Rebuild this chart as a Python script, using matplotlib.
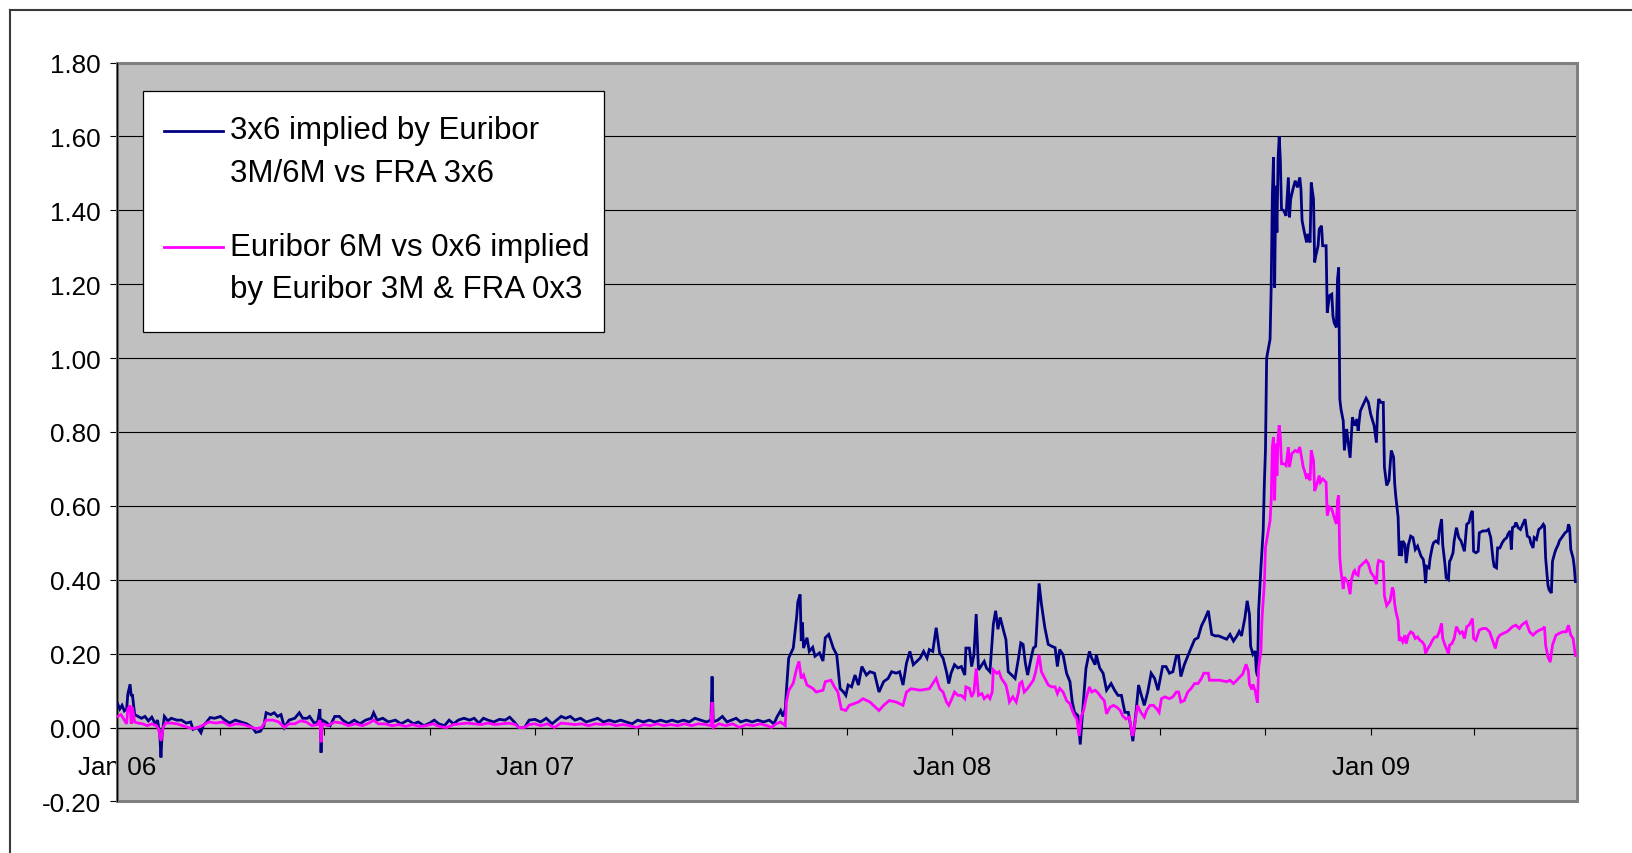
import numpy as np
import matplotlib
matplotlib.use("Agg")
import matplotlib.pyplot as plt
import matplotlib.dates as mdates
from matplotlib.lines import Line2D
from matplotlib.patches import Rectangle
from matplotlib.ticker import FixedLocator, FuncFormatter

plt.rcParams["font.family"] = ["Liberation Sans", "DejaVu Sans"]

# ---------------------------------------------------------------------------
# Data: (day offset from 1 Jan 2006, spread in percentage points)
# ---------------------------------------------------------------------------
ORIGIN = "2006-01-01"

fra3x6_2006 = [
    (0, 0.065), (2, 0.05), (4, 0.06), (6, 0.045), (8, 0.05), (9, 0.09), (11, 0.117), (12, 0.085),
    (13, 0.09), (15, 0.035), (18, 0.03), (21, 0.025), (24, 0.03), (27, 0.018), (30, 0.028), (33, 0.01),
    (35, 0.02), (37, -0.02), (38, -0.081), (39, -0.02), (41, 0.03), (44, 0.018), (47, 0.025), (52, 0.02),
    (56, 0.02), (60, 0.012), (64, 0.015), (66, -0.005), (70, 0.0), (73, -0.014), (75, 0.005), (78, 0.015),
    (81, 0.027), (85, 0.025), (90, 0.03), (94, 0.02), (98, 0.012), (103, 0.02), (108, 0.015), (113, 0.01),
    (118, 0.0), (121, -0.013), (125, -0.01), (128, 0.005), (130, 0.04), (134, 0.035), (137, 0.04),
    (140, 0.03), (143, 0.035), (146, 0.0), (150, 0.02), (155, 0.025), (159, 0.04), (162, 0.025),
    (166, 0.025), (168, 0.03), (172, 0.012), (175, 0.015), (177, 0.05), (178, -0.068), (179, 0.02),
    (182, 0.015), (186, 0.005), (190, 0.03), (194, 0.03), (197, 0.02), (202, 0.01), (207, 0.02),
    (212, 0.01), (217, 0.02), (222, 0.025), (224, 0.04), (227, 0.02), (232, 0.025), (237, 0.015),
    (243, 0.02), (248, 0.01), (254, 0.02), (259, 0.01), (263, 0.015), (268, 0.005), (273, 0.012),
    (277, 0.02), (281, 0.01), (286, 0.005), (290, 0.02), (294, 0.01), (298, 0.02), (303, 0.025),
    (308, 0.02), (312, 0.025), (316, 0.012), (320, 0.025), (324, 0.02), (329, 0.015), (334, 0.022),
    (339, 0.02), (343, 0.028), (347, 0.015), (351, 0.0), (356, 0.0), (360, 0.02),
]
fra3x6_2007 = [
    (365, 0.022), (370, 0.015), (375, 0.025), (380, 0.01), (384, 0.02), (388, 0.03), (392, 0.025),
    (396, 0.03), (400, 0.02), (405, 0.025), (410, 0.015), (415, 0.02), (420, 0.025), (425, 0.015),
    (430, 0.02), (435, 0.015), (440, 0.02), (445, 0.015), (450, 0.01), (455, 0.02), (460, 0.015),
    (465, 0.02), (470, 0.015), (475, 0.02), (480, 0.015), (485, 0.02), (490, 0.015), (495, 0.02),
    (500, 0.015), (505, 0.025), (510, 0.02), (515, 0.015), (519, 0.02), (520, 0.138), (521, 0.015),
    (525, 0.02), (529, 0.03), (533, 0.015), (537, 0.02), (541, 0.025), (545, 0.015), (550, 0.02),
    (555, 0.015), (560, 0.02), (565, 0.015), (570, 0.02), (574, 0.01), (577, 0.03), (580, 0.046),
    (582, 0.03), (584, 0.05), (585, 0.10), (587, 0.188), (591, 0.215), (592, 0.243), (594, 0.30),
    (595, 0.34), (597, 0.36), (598, 0.234), (599, 0.284), (600, 0.215), (603, 0.243), (605, 0.206),
    (608, 0.217), (610, 0.193), (614, 0.202), (617, 0.18), (619, 0.243), (622, 0.252), (624, 0.234),
    (626, 0.215), (629, 0.197), (632, 0.105), (635, 0.096), (637, 0.087), (639, 0.115), (642, 0.11),
    (645, 0.142), (648, 0.115), (651, 0.165), (655, 0.142), (658, 0.151), (662, 0.147), (666, 0.096),
    (670, 0.124), (674, 0.133), (677, 0.151), (681, 0.147), (684, 0.151), (687, 0.115), (690, 0.174),
    (693, 0.206), (696, 0.17), (699, 0.179), (702, 0.188), (705, 0.206), (708, 0.188), (710, 0.211),
    (713, 0.206), (716, 0.27), (719, 0.202), (722, 0.188), (725, 0.151), (727, 0.119),
]
fra3x6_2008 = [
    (729, 0.147), (732, 0.17), (735, 0.161), (738, 0.165), (741, 0.142), (742, 0.215), (745, 0.215),
    (747, 0.165), (749, 0.197), (751, 0.307), (753, 0.156), (756, 0.17), (758, 0.179), (760, 0.161),
    (763, 0.151), (766, 0.28), (768, 0.316), (770, 0.266), (772, 0.298), (775, 0.261), (777, 0.238),
    (779, 0.151), (782, 0.142), (785, 0.133), (788, 0.188), (790, 0.229), (792, 0.225), (794, 0.174),
    (796, 0.142), (799, 0.188), (801, 0.215), (803, 0.22), (806, 0.39), (808, 0.335), (811, 0.271),
    (814, 0.225), (817, 0.22), (820, 0.216), (822, 0.165), (824, 0.211), (827, 0.197), (830, 0.147),
    (833, 0.124), (835, 0.069), (837, 0.041), (840, 0.032), (842, -0.046), (844, 0.041), (847, 0.16),
    (850, 0.206), (852, 0.188), (855, 0.17), (856, 0.197), (859, 0.161), (862, 0.147), (865, 0.101),
    (869, 0.119), (872, 0.101), (875, 0.087), (878, 0.087), (881, 0.041), (884, 0.041), (886, 0.005),
    (888, -0.037), (891, 0.05), (893, 0.115), (895, 0.092), (898, 0.06), (901, 0.096), (904, 0.147),
    (907, 0.133), (910, 0.101), (914, 0.165), (917, 0.165), (920, 0.147), (923, 0.151), (926, 0.193),
    (928, 0.193), (930, 0.138), (933, 0.17), (936, 0.193), (939, 0.216), (942, 0.238), (945, 0.243),
    (948, 0.275), (951, 0.294), (954, 0.316), (957, 0.252), (960, 0.248), (963, 0.248), (967, 0.243),
    (970, 0.239), (973, 0.252), (976, 0.234), (979, 0.248), (981, 0.26), (983, 0.248), (986, 0.297),
    (988, 0.343), (990, 0.306), (991, 0.22), (993, 0.198), (995, 0.207), (996, 0.153), (997, 0.139),
    (998, 0.316), (1000, 0.433), (1002, 0.533), (1003, 0.66), (1004, 0.753), (1005, 1.0), (1008, 1.051),
    (1009, 1.196), (1010, 1.44), (1011, 1.543), (1012, 1.191), (1013, 1.466), (1014, 1.34), (1015, 1.539),
    (1016, 1.60), (1017, 1.534), (1018, 1.403), (1020, 1.399), (1022, 1.385), (1024, 1.489), (1025, 1.381),
    (1026, 1.43), (1028, 1.457), (1030, 1.48), (1032, 1.462), (1034, 1.489), (1035, 1.457), (1036, 1.372),
    (1038, 1.34), (1040, 1.313), (1041, 1.336), (1043, 1.313), (1044, 1.475), (1046, 1.43), (1047, 1.259),
    (1048, 1.277), (1050, 1.304), (1051, 1.349), (1053, 1.358), (1054, 1.304), (1057, 1.304), (1058, 1.123),
    (1060, 1.169), (1062, 1.173), (1063, 1.114), (1064, 1.096), (1066, 1.083), (1067, 1.214), (1068, 1.245),
    (1069, 0.889), (1070, 0.862), (1072, 0.83), (1073, 0.75), (1075, 0.808), (1076, 0.78), (1078, 0.73),
    (1080, 0.84), (1082, 0.817), (1084, 0.835), (1085, 0.803), (1087, 0.857), (1089, 0.871), (1092, 0.891),
    (1094, 0.88),
]
fra3x6_2009 = [
    (1096, 0.848), (1099, 0.817), (1101, 0.771), (1102, 0.853), (1103, 0.889), (1105, 0.88), (1107, 0.88),
    (1108, 0.705), (1110, 0.655), (1112, 0.669), (1114, 0.75), (1116, 0.732), (1117, 0.66), (1118, 0.624),
    (1120, 0.569), (1121, 0.465), (1122, 0.505), (1123, 0.464), (1124, 0.505), (1126, 0.495), (1127, 0.445),
    (1129, 0.495), (1131, 0.518), (1133, 0.514), (1135, 0.482), (1137, 0.491), (1139, 0.473), (1140, 0.464),
    (1142, 0.455), (1143, 0.432), (1144, 0.391), (1145, 0.436), (1147, 0.432), (1148, 0.459), (1150, 0.491),
    (1151, 0.5), (1153, 0.505), (1155, 0.5), (1156, 0.532), (1158, 0.564), (1159, 0.495), (1161, 0.441),
    (1162, 0.405), (1164, 0.4), (1165, 0.45), (1166, 0.455), (1168, 0.473), (1169, 0.505), (1171, 0.541),
    (1173, 0.514), (1175, 0.505), (1177, 0.486), (1178, 0.477), (1180, 0.55), (1182, 0.555), (1184, 0.582),
    (1185, 0.586), (1186, 0.477), (1188, 0.473), (1190, 0.477), (1191, 0.527), (1194, 0.532), (1197, 0.532),
    (1199, 0.536), (1201, 0.514), (1203, 0.455), (1204, 0.436), (1206, 0.432), (1207, 0.486), (1209, 0.486),
    (1211, 0.5), (1213, 0.509), (1215, 0.514), (1216, 0.523), (1218, 0.532), (1219, 0.482), (1220, 0.541),
    (1222, 0.545), (1223, 0.555), (1225, 0.541), (1227, 0.536), (1229, 0.55), (1231, 0.564), (1233, 0.518),
    (1235, 0.514), (1236, 0.5), (1238, 0.486), (1239, 0.514), (1241, 0.509), (1243, 0.536), (1245, 0.541),
    (1247, 0.55), (1248, 0.545), (1249, 0.459), (1251, 0.386), (1252, 0.373), (1254, 0.364), (1255, 0.45),
    (1257, 0.473), (1258, 0.482), (1260, 0.495), (1261, 0.505), (1263, 0.514), (1266, 0.527), (1268, 0.532),
    (1269, 0.55), (1270, 0.541), (1271, 0.482), (1273, 0.459), (1274, 0.436), (1275, 0.395),
]

e6m_2006 = [
    (0, 0.03), (3, 0.035), (6, 0.02), (8, 0.01), (9, 0.05), (11, 0.06), (12, 0.01), (13, 0.055),
    (15, 0.015), (18, 0.012), (22, 0.01), (26, 0.005), (30, 0.01), (34, 0.005), (36, -0.005),
    (38, -0.036), (40, 0.0), (42, 0.012), (47, 0.012), (52, 0.01), (57, 0.005), (62, 0.0), (66, -0.003),
    (70, 0.0), (74, 0.005), (80, 0.015), (86, 0.012), (92, 0.015), (98, 0.005), (104, 0.01), (110, 0.008),
    (116, 0.002), (121, -0.003), (126, 0.0), (130, 0.02), (136, 0.02), (141, 0.015), (146, 0.0),
    (150, 0.01), (155, 0.01), (160, 0.018), (165, 0.015), (170, 0.005), (175, 0.008), (177, 0.02),
    (178, -0.04), (179, 0.01), (184, 0.005), (190, 0.015), (196, 0.012), (202, 0.005), (208, 0.01),
    (214, 0.005), (220, 0.012), (224, 0.02), (228, 0.01), (234, 0.01), (240, 0.005), (246, 0.008),
    (252, 0.003), (258, 0.008), (264, 0.003), (270, 0.005), (276, 0.01), (282, 0.002), (288, 0.0),
    (294, 0.008), (300, 0.01), (306, 0.012), (312, 0.01), (318, 0.008), (324, 0.012), (330, 0.008),
    (336, 0.01), (342, 0.012), (348, 0.008), (351, 0.0), (356, 0.0), (360, 0.008),
]
e6m_2007 = [
    (365, 0.01), (370, 0.005), (376, 0.01), (382, 0.0), (388, 0.012), (394, 0.01), (400, 0.008),
    (406, 0.01), (412, 0.005), (418, 0.01), (424, 0.008), (430, 0.01), (436, 0.005), (442, 0.008),
    (448, 0.005), (454, 0.0), (460, 0.008), (466, 0.005), (472, 0.01), (478, 0.005), (484, 0.008),
    (490, 0.005), (496, 0.01), (502, 0.005), (508, 0.01), (514, 0.008), (519, 0.005), (520, 0.069),
    (521, 0.0), (526, 0.01), (532, 0.005), (538, 0.01), (544, 0.0), (550, 0.008), (556, 0.005),
    (562, 0.01), (568, 0.005), (572, 0.0), (576, 0.01), (580, 0.015), (584, 0.005), (585, 0.069),
    (587, 0.10), (591, 0.12), (594, 0.16), (596, 0.179), (598, 0.133), (600, 0.142), (603, 0.115),
    (608, 0.106), (611, 0.096), (617, 0.101), (619, 0.124), (624, 0.128), (627, 0.11), (630, 0.096),
    (633, 0.05), (637, 0.046), (640, 0.06), (648, 0.069), (652, 0.078), (658, 0.069), (666, 0.046),
    (670, 0.06), (675, 0.073), (681, 0.069), (687, 0.06), (690, 0.096), (694, 0.105), (702, 0.101),
    (710, 0.105), (716, 0.133), (719, 0.105), (722, 0.096), (725, 0.069), (727, 0.06),
]
e6m_2008 = [
    (729, 0.073), (732, 0.096), (735, 0.087), (738, 0.087), (741, 0.078), (742, 0.11), (745, 0.106),
    (747, 0.083), (749, 0.096), (751, 0.16), (753, 0.087), (756, 0.092), (758, 0.078), (761, 0.087),
    (763, 0.078), (765, 0.096), (766, 0.156), (769, 0.147), (771, 0.151), (773, 0.133), (775, 0.124),
    (777, 0.115), (779, 0.087), (780, 0.069), (783, 0.083), (786, 0.069), (788, 0.096), (789, 0.119),
    (791, 0.124), (793, 0.096), (796, 0.106), (798, 0.115), (801, 0.128), (803, 0.151), (806, 0.197),
    (808, 0.151), (811, 0.133), (814, 0.115), (817, 0.11), (820, 0.11), (822, 0.092), (824, 0.106),
    (827, 0.096), (830, 0.073), (833, 0.064), (835, 0.046), (837, 0.032), (839, 0.023), (841, -0.023),
    (843, 0.032), (845, 0.046), (847, 0.078), (850, 0.11), (852, 0.096), (855, 0.101), (858, 0.092),
    (860, 0.083), (863, 0.073), (865, 0.037), (868, 0.055), (871, 0.06), (874, 0.055), (877, 0.046),
    (879, 0.032), (882, 0.023), (885, 0.028), (887, -0.014), (888, -0.023), (890, 0.014), (892, 0.06),
    (895, 0.041), (898, 0.028), (900, 0.046), (903, 0.06), (906, 0.06), (909, 0.05), (911, 0.041),
    (913, 0.078), (916, 0.083), (920, 0.078), (923, 0.083), (926, 0.096), (928, 0.096), (930, 0.069),
    (933, 0.073), (936, 0.096), (939, 0.106), (942, 0.119), (945, 0.119), (948, 0.133), (950, 0.147),
    (954, 0.147), (955, 0.128), (958, 0.128), (964, 0.128), (970, 0.124), (973, 0.128), (976, 0.119),
    (979, 0.128), (981, 0.135), (984, 0.144), (987, 0.171), (989, 0.153), (990, 0.117), (992, 0.103),
    (993, 0.117), (995, 0.099), (996, 0.081), (997, 0.067), (998, 0.162), (1000, 0.207), (1001, 0.298),
    (1003, 0.389), (1004, 0.488), (1006, 0.524), (1008, 0.56), (1009, 0.615), (1010, 0.76), (1011, 0.786),
    (1012, 0.615), (1013, 0.768), (1014, 0.682), (1015, 0.786), (1016, 0.818), (1017, 0.786), (1018, 0.714),
    (1020, 0.714), (1022, 0.709), (1024, 0.759), (1025, 0.705), (1027, 0.741), (1030, 0.75), (1032, 0.746),
    (1034, 0.759), (1035, 0.741), (1037, 0.705), (1038, 0.696), (1040, 0.673), (1041, 0.687), (1043, 0.669),
    (1044, 0.75), (1046, 0.723), (1047, 0.64), (1049, 0.659), (1051, 0.682), (1052, 0.664), (1054, 0.673),
    (1057, 0.664), (1058, 0.574), (1060, 0.597), (1062, 0.592), (1064, 0.569), (1066, 0.551), (1067, 0.615),
    (1068, 0.628), (1069, 0.46), (1070, 0.424), (1072, 0.375), (1073, 0.407), (1075, 0.398), (1076, 0.393),
    (1078, 0.361), (1079, 0.398), (1081, 0.421), (1082, 0.425), (1083, 0.416), (1085, 0.412), (1086, 0.434),
    (1089, 0.443), (1092, 0.452), (1094, 0.443),
]
e6m_2009 = [
    (1096, 0.421), (1099, 0.407), (1101, 0.388), (1102, 0.438), (1103, 0.452), (1107, 0.448), (1108, 0.357),
    (1110, 0.33), (1113, 0.343), (1115, 0.379), (1116, 0.37), (1117, 0.334), (1118, 0.315), (1120, 0.289),
    (1121, 0.234), (1122, 0.245), (1124, 0.232), (1126, 0.25), (1127, 0.227), (1129, 0.25), (1131, 0.259),
    (1133, 0.255), (1135, 0.241), (1137, 0.245), (1139, 0.236), (1141, 0.232), (1143, 0.223), (1144, 0.2),
    (1146, 0.214), (1148, 0.223), (1150, 0.236), (1152, 0.245), (1154, 0.245), (1156, 0.259), (1158, 0.282),
    (1159, 0.241), (1161, 0.223), (1164, 0.2), (1165, 0.223), (1167, 0.227), (1169, 0.241), (1171, 0.273),
    (1174, 0.255), (1176, 0.259), (1178, 0.241), (1180, 0.273), (1182, 0.277), (1185, 0.295), (1186, 0.241),
    (1188, 0.236), (1191, 0.264), (1194, 0.268), (1197, 0.268), (1200, 0.259), (1203, 0.232), (1205, 0.214),
    (1207, 0.241), (1209, 0.25), (1212, 0.255), (1215, 0.259), (1217, 0.264), (1220, 0.273), (1223, 0.277),
    (1226, 0.268), (1228, 0.277), (1230, 0.282), (1232, 0.286), (1235, 0.259), (1238, 0.25), (1241, 0.259),
    (1244, 0.264), (1247, 0.268), (1248, 0.273), (1249, 0.223), (1251, 0.191), (1253, 0.177), (1255, 0.223),
    (1257, 0.241), (1258, 0.25), (1261, 0.255), (1264, 0.259), (1267, 0.259), (1269, 0.277), (1271, 0.25),
    (1273, 0.241), (1275, 0.195),
]

series_labels = [
    "3x6 implied by Euribor\n3M/6M vs FRA 3x6",
    "Euribor 6M vs 0x6 implied\nby Euribor 3M & FRA 0x3",
]
series_colors = ["#000080", "#FF00FF"]

y_ticks = [-0.20, 0.00, 0.20, 0.40, 0.60, 0.80, 1.00, 1.20, 1.40, 1.60, 1.80]
year_ticks = ["2006-01-01", "2007-01-01", "2008-01-01", "2009-01-01"]
year_labels = ["Jan 06", "Jan 07", "Jan 08", "Jan 09"]
x_end = "2009-06-30"

# ---------------------------------------------------------------------------
W, H = 1632, 854
fig = plt.figure(figsize=(W / 100, H / 100), dpi=100, facecolor="white")

# plot-area box in pixels (left, top, right, bottom)
pl, pt, pr, pb = 117.5, 63.5, 1576.5, 802.4
ax = fig.add_axes([pl / W, 1 - pb / H, (pr - pl) / W, (pb - pt) / H])
ax.set_facecolor("#C0C0C0")

base = mdates.datestr2num(ORIGIN)


def to_xy(*chunks):
    pts = [p for c in chunks for p in c]
    d = np.array([p[0] for p in pts], dtype=float)
    v = np.array([p[1] for p in pts], dtype=float)
    return base + d, v


x1, y1 = to_xy(fra3x6_2006, fra3x6_2007, fra3x6_2008, fra3x6_2009)
x2, y2 = to_xy(e6m_2006, e6m_2007, e6m_2008, e6m_2009)

line_w = 2.0
ax.plot(x1, y1, color=series_colors[0], lw=line_w, zorder=3, solid_joinstyle="miter")
ax.plot(x2, y2, color=series_colors[1], lw=line_w, zorder=4, solid_joinstyle="miter")

ax.set_xlim(base, mdates.datestr2num(x_end))
ax.set_ylim(y_ticks[0], y_ticks[-1])

# y axis
ax.yaxis.set_major_locator(FixedLocator(y_ticks))
ax.yaxis.set_major_formatter(FuncFormatter(lambda v, p: f"{v:.2f}"))
ax.yaxis.grid(True, color="black", lw=0.8)
ax.set_axisbelow(True)
ax.tick_params(axis="y", direction="out", length=5, width=0.8, pad=7,
               labelsize=18.7, colors="black")

# x axis crossing at zero
ax.spines["bottom"].set_position(("data", 0))
ax.spines["top"].set_visible(False)
ax.spines["right"].set_visible(False)
for s in ("left", "bottom"):
    ax.spines[s].set_color("black")
    ax.spines[s].set_linewidth(0.9)
ax.xaxis.set_major_locator(FixedLocator(mdates.datestr2num(year_ticks)))
ax.xaxis.set_minor_locator(mdates.MonthLocator(bymonth=[4, 7, 10]))
ax.set_xticklabels(year_labels)
ax.tick_params(axis="x", which="both", direction="out", length=5, width=0.8)
ax.tick_params(axis="x", which="major", pad=15, labelsize=18.7)

# grey plot-area border
ax.add_patch(Rectangle((0, 0), 1, 1, transform=ax.transAxes, fill=False,
                       ec="#808080", lw=2.2, zorder=1.5, clip_on=False))


# legend box, drawn in pixel coordinates of the figure
def fx(px):
    return px / W


def fy(py):
    return 1 - py / H


fig.add_artist(Rectangle((fx(142.6), fy(333)), fx(603.7) - fx(142.6), fy(91.6) - fy(333),
                         transform=fig.transFigure, fc="white", ec="black", lw=0.9, zorder=10))
entry_tops = [139.3, 256.0]      # baseline of each entry's first line
handle_y = [131.7, 248.3]
line_step = 42.4
for label, color, base_y, hy in zip(series_labels, series_colors, entry_tops, handle_y):
    fig.add_artist(Line2D([fx(163.8), fx(222.7)], [fy(hy), fy(hy)], color=color, lw=line_w,
                          transform=fig.transFigure, zorder=11))
    for i, line in enumerate(label.split("\n")):
        fig.text(fx(229.6), fy(base_y + i * line_step), line, fontsize=22.5,
                 ha="left", va="baseline", color="black", zorder=12)

# outer chart frame
fig.add_artist(Line2D([fx(9.5), 1.0], [fy(10.5), fy(10.5)], color="#3a3a3a", lw=1.5,
                      transform=fig.transFigure))
fig.add_artist(Line2D([fx(9.5), fx(9.5)], [fy(10.5), 0.0], color="#3a3a3a", lw=1.5,
                      transform=fig.transFigure))

fig.savefig("out.png", dpi=100, facecolor="white")
